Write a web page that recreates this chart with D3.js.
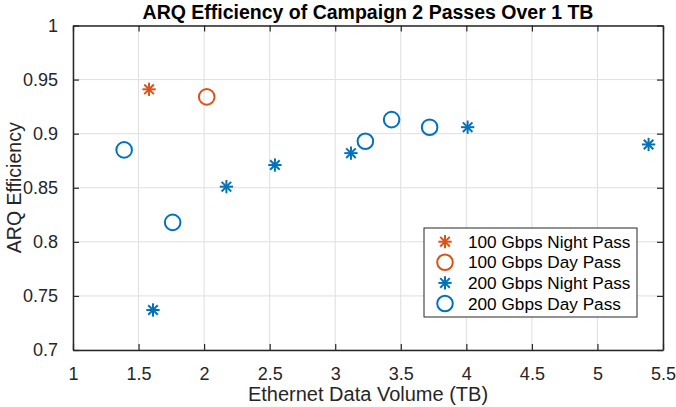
<!DOCTYPE html>
<html>
<head>
<meta charset="utf-8">
<script src="https://cdn.jsdelivr.net/npm/d3@7"></script>
<style>
  html, body { margin: 0; padding: 0; background: #fff; }
  svg { display: block; }
  text { font-family: "Liberation Sans", Arial, Helvetica, sans-serif; }
</style>
</head>
<body>
<svg id="chart" width="676" height="407"></svg>
<script>
// ---- Data ----
const night100X = [1.58];
const night100Y = [0.941];
const day100X = [2.02];
const day100Y = [0.934];
const night200X = [1.61, 2.17, 2.54, 3.12, 4.01, 5.39];
const night200Y = [0.737, 0.851, 0.871, 0.882, 0.906, 0.890];
const day200X = [1.39, 1.76, 3.23, 3.43, 3.72];
const day200Y = [0.885, 0.818, 0.893, 0.913, 0.906];
const xTicks = [1, 1.5, 2, 2.5, 3, 3.5, 4, 4.5, 5, 5.5];
const yTicks = [0.7, 0.75, 0.8, 0.85, 0.9, 0.95, 1];
const seriesNames = ["100 Gbps Night Pass", "100 Gbps Day Pass", "200 Gbps Night Pass", "200 Gbps Day Pass"];
const titleText = "ARQ Efficiency of Campaign 2 Passes Over 1 TB";
const xLabelText = "Ethernet Data Volume (TB)";
const yLabelText = "ARQ Efficiency";

const BLUE = "#0072BD", ORANGE = "#D95319", AX = "#262626", GRID = "#dfdfdf";

const series = [
  { name: seriesNames[0], xs: night100X, ys: night100Y, color: ORANGE, shape: "star" },
  { name: seriesNames[1], xs: day100X, ys: day100Y, color: ORANGE, shape: "circle" },
  { name: seriesNames[2], xs: night200X, ys: night200Y, color: BLUE, shape: "star" },
  { name: seriesNames[3], xs: day200X, ys: day200Y, color: BLUE, shape: "circle" }
];

const L = 73, R = 663, T = 25.5, B = 350;
const x = d3.scaleLinear().domain([1, 5.5]).range([L, R]);
const y = d3.scaleLinear().domain([0.7, 1]).range([B, T]);

const svg = d3.select("#chart");

// grid
const g = svg.append("g");
g.selectAll("line.gx").data(xTicks).enter().append("line")
  .attr("x1", d => x(d)).attr("x2", d => x(d)).attr("y1", T).attr("y2", B)
  .attr("stroke", GRID).attr("stroke-width", 1);
g.selectAll("line.gy").data(yTicks).enter().append("line")
  .attr("y1", d => y(d)).attr("y2", d => y(d)).attr("x1", L).attr("x2", R)
  .attr("stroke", GRID).attr("stroke-width", 1);

// axes (ticks inward)
const tl = 6;
const fmt = d => String(d);
const xAxisB = d3.axisBottom(x).tickValues(xTicks).tickFormat(fmt).tickSizeInner(-tl).tickSizeOuter(0).tickPadding(tl + 11);
const xAxisT = d3.axisTop(x).tickValues(xTicks).tickFormat("").tickSizeInner(-tl).tickSizeOuter(0);
const yAxisL = d3.axisLeft(y).tickValues(yTicks).tickFormat(fmt).tickSizeInner(-tl).tickSizeOuter(0).tickPadding(tl + 9);
const yAxisR = d3.axisRight(y).tickValues(yTicks).tickFormat("").tickSizeInner(-tl).tickSizeOuter(0);

function styleAxis(sel) {
  sel.selectAll("path").attr("stroke", AX).attr("stroke-width", 1.5);
  sel.selectAll("line").attr("stroke", AX).attr("stroke-width", 1.2);
  sel.selectAll("text").attr("fill", AX).style("font-size", "18px")
    .style("font-family", '"Liberation Sans", Arial, sans-serif');
}
svg.append("g").attr("transform", `translate(0,${B})`).call(xAxisB).call(styleAxis);
svg.append("g").attr("transform", `translate(0,${T})`).call(xAxisT).call(styleAxis);
svg.append("g").attr("transform", `translate(${L},0)`).call(yAxisL).call(styleAxis);
svg.append("g").attr("transform", `translate(${R},0)`).call(yAxisR).call(styleAxis);

// markers
function drawMarker(sel, shape, color, r) {
  if (shape === "circle") {
    sel.append("circle").attr("r", r).attr("fill", "none").attr("stroke", color).attr("stroke-width", 2);
  } else {
    const a = r * 0.95, d = a * 0.72;
    const segs = [[-a, 0, a, 0], [0, -a, 0, a], [-d, -d, d, d], [-d, d, d, -d]];
    segs.forEach(s => sel.append("line")
      .attr("x1", s[0]).attr("y1", s[1]).attr("x2", s[2]).attr("y2", s[3])
      .attr("stroke", color).attr("stroke-width", 2));
  }
}
series.forEach(s => {
  const pts = s.xs.map((v, i) => [v, s.ys[i]]);
  svg.append("g").selectAll("g").data(pts).enter().append("g")
    .attr("transform", d => `translate(${x(d[0])},${y(d[1])})`)
    .each(function () { drawMarker(d3.select(this), s.shape, s.color, s.shape === "circle" ? 7.8 : 7); });
});

// title & labels
svg.append("text").attr("x", (L + R) / 2).attr("y", 19).attr("text-anchor", "middle")
  .style("font-size", "19.5px").style("font-weight", "bold").attr("fill", "#000").text(titleText);
svg.append("text").attr("x", (L + R) / 2).attr("y", 401).attr("text-anchor", "middle")
  .style("font-size", "20px").attr("fill", AX).text(xLabelText);
svg.append("text").attr("transform", `translate(21,${(T + B) / 2}) rotate(-90)`).attr("text-anchor", "middle")
  .style("font-size", "19.5px").attr("fill", AX).text(yLabelText);

// legend
const lg = svg.append("g").attr("transform", "translate(424,228)");
lg.append("rect").attr("width", 213).attr("height", 89).attr("fill", "#fff").attr("stroke", AX).attr("stroke-width", 1);
series.forEach((s, i) => {
  const ry = 13.7 + i * 20.6;
  const m = lg.append("g").attr("transform", `translate(21,${ry})`);
  drawMarker(m, s.shape, s.color, s.shape === "circle" ? 7.8 : 7);
  lg.append("text").attr("x", 44).attr("y", ry).attr("dy", "0.36em")
    .style("font-size", "17.2px").attr("fill", "#000").text(s.name);
});
</script>
</body>
</html>
